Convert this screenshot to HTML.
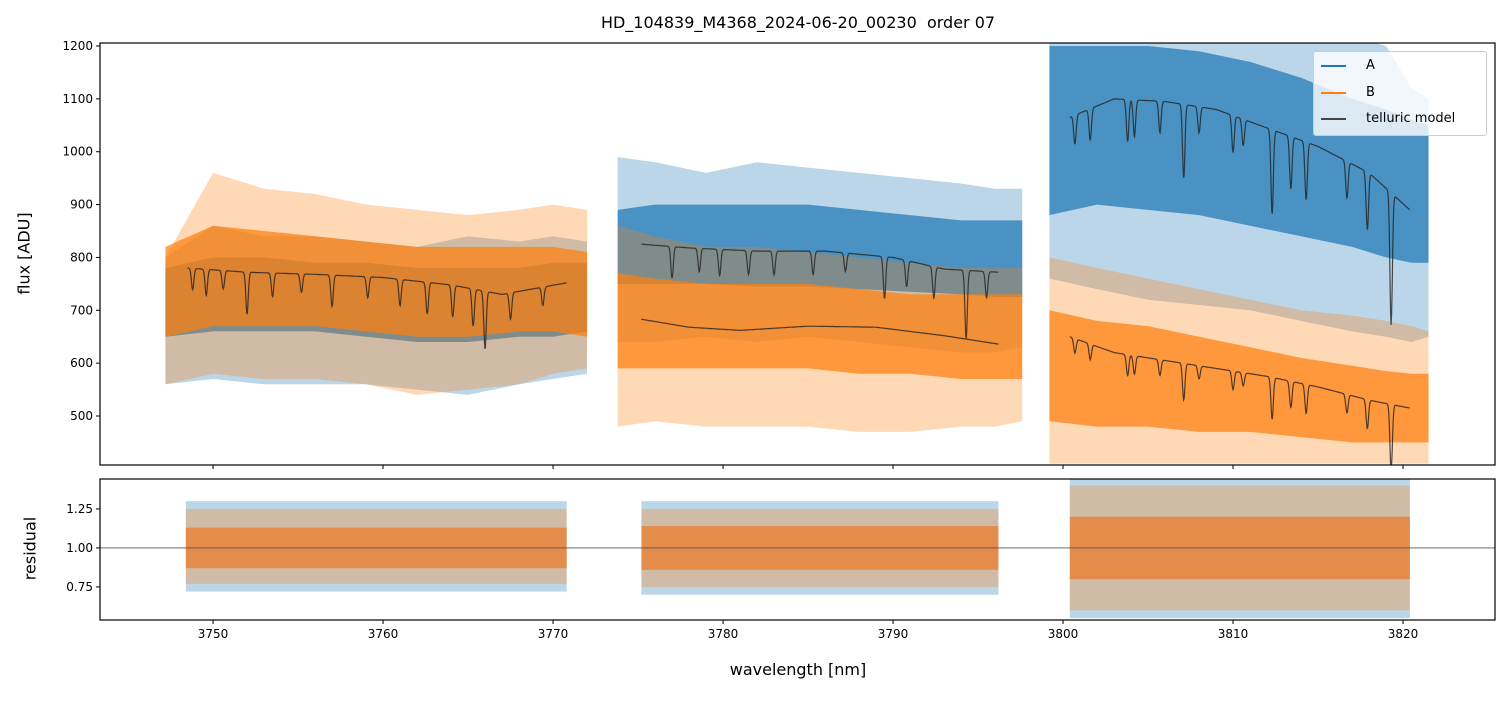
<!DOCTYPE html>
<html><head><meta charset="utf-8"><style>
body{margin:0;background:#fff;font-family:"Liberation Sans","DejaVu Sans",sans-serif}
svg text{font-family:"DejaVu Sans","Liberation Sans",sans-serif}
</style></head><body>
<svg id="c" width="1510" height="696" xmlns="http://www.w3.org/2000/svg"></svg>
<script>
// ---- data ----
const xTicks=[3750,3760,3770,3780,3790,3800,3810,3820];
const yTicks=[500,600,700,800,900,1000,1100,1200];
const rTicks=[0.75,1.00,1.25];
const seg1W=[3747.2,3750,3753,3756,3759,3762,3765,3768,3770,3772.0];
const seg2W=[3773.8,3776,3779,3782,3785,3788,3791,3794,3796,3797.6];
const seg3W=[3799.2,3802,3805,3808,3811,3814,3817,3819,3820.5,3821.5];
const aOutLo=[[560,570,560,560,560,550,540,560,570,580],[640,640,650,640,650,640,630,620,620,630],[760,740,720,710,700,680,660,650,640,650]];
const aOutHi=[[800,860,840,840,830,820,840,830,840,830],[990,980,960,980,970,960,950,940,930,930],[1230,1230,1230,1230,1230,1230,1220,1200,1120,1100]];
const aCoreLo=[[650,660,660,660,650,640,640,650,650,660],[750,750,750,745,745,740,735,730,725,725],[880,900,890,880,860,840,820,800,790,790]];
const aCoreHi=[[780,800,800,790,790,780,780,780,790,790],[890,900,900,900,900,890,880,870,870,870],[1200,1200,1200,1190,1170,1140,1100,1080,1060,1050]];
const bOutLo=[[560,580,570,570,560,540,550,560,580,590],[480,490,480,480,480,470,470,480,480,490],[410,410,410,410,410,410,410,410,410,410]];
const bOutHi=[[800,960,930,920,900,890,880,890,900,890],[860,840,820,820,810,800,790,780,780,780],[800,780,760,740,720,700,690,680,670,660]];
const bCoreLo=[[650,670,670,670,660,650,650,660,660,650],[590,590,590,590,590,580,580,570,570,570],[490,480,480,470,470,460,450,450,450,450]];
const bCoreHi=[[820,860,850,840,830,820,820,820,820,810],[770,760,750,750,750,740,730,730,730,730],[700,680,670,650,630,610,595,585,580,580]];
// telluric continua
const tA1W=[3748.5,3752,3756,3760,3764,3767,3770.8], tA1=[780,772,768,762,748,730,752];
const tA2W=[3775.2,3778,3782,3786,3790,3793,3796.2], tA2=[825,818,812,812,800,778,772];
const tB2W=[3775.2,3778,3781,3785,3789,3793,3796.2], tB2=[683,668,662,670,668,652,636];
const tA3W=[3800.4,3803,3806,3809,3812,3815,3818,3820.4], tA3=[1065,1100,1095,1080,1045,1010,960,890];
const tB3W=[3800.4,3803,3806,3809,3812,3815,3818,3820.4], tB3=[650,620,605,590,575,555,530,515];
const dips1W=[3748.8,3749.6,3750.6,3752.0,3753.5,3755.2,3757.0,3759.1,3761.0,3762.6,3764.1,3765.3,3766.0,3767.5,3769.4];
const dips1D=[40,50,35,80,45,35,60,40,50,60,60,70,110,50,35];
const dips2W=[3777.0,3778.6,3779.8,3781.5,3783.0,3785.3,3787.2,3789.5,3790.8,3792.4,3794.3,3795.5];
const dips2D=[60,45,50,45,45,45,35,80,50,60,130,50];
const dips3W=[3800.7,3801.6,3803.8,3804.2,3805.7,3807.1,3808.0,3810.0,3810.6,3812.3,3813.4,3814.3,3816.7,3817.9,3819.3];
const dips3D=[55,60,80,70,60,140,50,70,50,160,100,110,70,110,250];
const rSegW=[[3748.4,3770.8],[3775.2,3796.2],[3800.4,3820.4]];
const rOut=[[0.72,1.3],[0.7,1.3],[0.55,1.45]];
const rCore=[[0.87,1.13],[0.86,1.14],[0.8,1.2]];
// ---- scales ----
const X=w=>100+(w-3743.35)/(3825.41-3743.35)*1395;
const Y=v=>465-(v-407.3)/(1205.7-407.3)*422;
const R=v=>620-(v-0.538)/(1.442-0.538)*141;
const NS='http://www.w3.org/2000/svg', svg=document.getElementById('c');
function el(t,a,p){const e=document.createElementNS(NS,t);for(const k in a)e.setAttribute(k,a[k]);(p||svg).appendChild(e);return e;}
const defs=el('defs',{});
const cp1=el('clipPath',{id:'cp1'},defs);el('rect',{x:100,y:43,width:1395,height:422},cp1);
const cp2=el('clipPath',{id:'cp2'},defs);el('rect',{x:100,y:479,width:1395,height:141},cp2);
const g1=el('g',{'clip-path':'url(#cp1)'});
const g2=el('g',{'clip-path':'url(#cp2)'});
function band(g,W,lo,hi,col,op,ys){
  let pts=W.map((w,i)=>X(w)+','+ys(hi[i]));
  pts=pts.concat(W.map((w,i)=>X(w)+','+ys(lo[i])).reverse());
  return el('polygon',{points:pts.join(' '),fill:col,'fill-opacity':op},g);
}
const segs=[seg1W,seg2W,seg3W];
for(let s=0;s<3;s++){
  const p1=band(g1,segs[s],aOutLo[s],aOutHi[s],'#1f77b4',0.3,Y);
  
  const p2=band(g1,segs[s],aCoreLo[s],aCoreHi[s],'#1f77b4',0.72,Y);
  
}
for(let s=0;s<3;s++){
  const p1=band(g1,segs[s],bOutLo[s],bOutHi[s],'#ff7f0e',0.3,Y);
  
  const p2=band(g1,segs[s],bCoreLo[s],bCoreHi[s],'#ff7f0e',0.72,Y);
  
}
function interp(W,V,w){for(let i=0;i<W.length-1;i++){if(w<=W[i+1]){const t=(w-W[i])/(W[i+1]-W[i]);return V[i]+t*(V[i+1]-V[i]);}}return V[V.length-1];}
function model(W,V,DW,DD,scale){
  let d='';
  for(let w=W[0];w<=W[W.length-1]+1e-6;w+=0.03){
    let v=interp(W,V,w);
    for(let i=0;i<DW.length;i++){v-=DD[i]*scale*Math.exp(-Math.pow((w-DW[i])/0.1,2));}
    d+=(d?'L':'M')+X(w).toFixed(1)+','+Y(v).toFixed(1);
  }
  const p=el('path',{d:d,fill:'none',stroke:'#222','stroke-opacity':0.8,'stroke-width':1.2},g1);
  
  
}
model(tA1W,tA1,dips1W,dips1D,1);
model(tA2W,tA2,dips2W,dips2D,1);
model(tB2W,tB2,[],[],0);
model(tA3W,tA3,dips3W,dips3D,1);
model(tB3W,tB3,dips3W,dips3D,0.5);
// residual bands
for(let s=0;s<3;s++){
  const W=rSegW[s];
  const o=el('rect',{x:X(W[0]),width:X(W[1])-X(W[0]),y:R(rOut[s][1]),height:R(rOut[s][0])-R(rOut[s][1]),fill:'#1f77b4','fill-opacity':0.3},g2);
  
  const o2=el('rect',{x:X(W[0]),width:X(W[1])-X(W[0]),y:R(rOut[s][1]-0.05),height:R(rOut[s][0]+0.05)-R(rOut[s][1]-0.05),fill:'#ff7f0e','fill-opacity':0.3},g2);
  
  const c=el('rect',{x:X(W[0]),width:X(W[1])-X(W[0]),y:R(rCore[s][1]),height:R(rCore[s][0])-R(rCore[s][1]),fill:'#e8843a','fill-opacity':0.85},g2);
  
}
el('line',{x1:100,x2:1495,y1:R(1),y2:R(1),stroke:'#555','stroke-width':0.8},g2);
// axes
const f1=el('rect',{x:100,y:43,width:1395,height:422,fill:'none',stroke:'#000','stroke-width':1.2});

const f2=el('rect',{x:100,y:479,width:1395,height:141,fill:'none',stroke:'#000','stroke-width':1.2});

xTicks.forEach(t=>{
  const x=X(t);
  el('line',{x1:x,x2:x,y1:465,y2:469,stroke:'#000'});
  el('line',{x1:x,x2:x,y1:620,y2:624,stroke:'#000'});
  const tx=el('text',{x:x,y:638,'font-size':12,'text-anchor':'middle'});tx.textContent=t;
  
});
yTicks.forEach(t=>{
  const y=Y(t);
  el('line',{x1:96,x2:100,y1:y,y2:y,stroke:'#000'});
  const tx=el('text',{x:93,y:y+4,'font-size':12,'text-anchor':'end'});tx.textContent=t;
  
});
rTicks.forEach(t=>{
  const y=R(t);
  el('line',{x1:96,x2:100,y1:y,y2:y,stroke:'#000'});
  const tx=el('text',{x:93,y:y+4,'font-size':12,'text-anchor':'end'});tx.textContent=t.toFixed(2);
  
});
</script>
<div style="position:absolute;left:0;top:0;width:1510px;height:696px;pointer-events:none">
<div style="position:absolute;left:0;width:1596px;top:13px;text-align:center;font-size:16px;font-family:'DejaVu Sans',sans-serif">HD_104839_M4368_2024-06-20_00230&nbsp; order 07</div>
<div style="position:absolute;left:0;width:1596px;top:660px;text-align:center;font-size:16px;font-family:'DejaVu Sans',sans-serif">wavelength [nm]</div>
<div style="position:absolute;left:-26px;top:244px;width:100px;text-align:center;transform:rotate(-90deg);font-size:16px;font-family:'DejaVu Sans',sans-serif">flux [ADU]</div>
<div style="position:absolute;left:-20px;top:539px;width:100px;text-align:center;transform:rotate(-90deg);font-size:16px;font-family:'DejaVu Sans',sans-serif">residual</div>
<div style="position:absolute;left:1313px;top:51px;width:172px;height:83px;background:rgba(255,255,255,0.8);border:1px solid #ccc;border-radius:3px;font-size:13px;font-family:'DejaVu Sans',sans-serif">
 <div style="position:absolute;left:7px;top:6px"><span style="display:inline-block;width:25px;border-top:2px solid #1f77b4;vertical-align:middle;margin-right:20px"></span>A</div>
 <div style="position:absolute;left:7px;top:33px"><span style="display:inline-block;width:25px;border-top:2px solid #ff7f0e;vertical-align:middle;margin-right:20px"></span>B</div>
 <div style="position:absolute;left:7px;top:59px"><span style="display:inline-block;width:25px;border-top:2px solid #444;vertical-align:middle;margin-right:20px"></span>telluric model</div>
</div>
</div>
</body></html>
